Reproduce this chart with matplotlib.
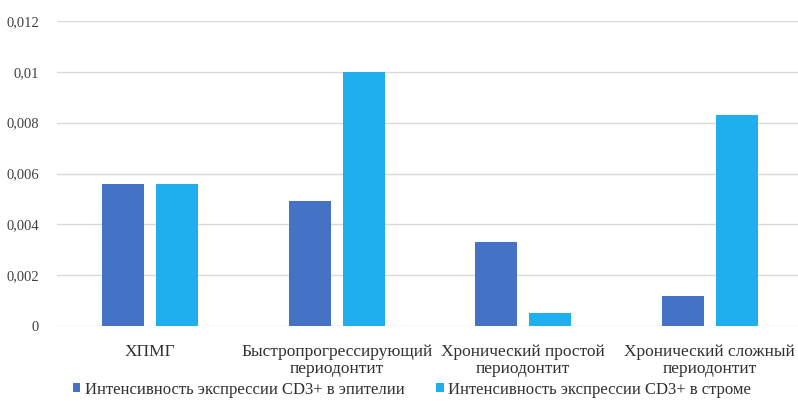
import matplotlib
matplotlib.use("Agg")
import matplotlib.pyplot as plt
import numpy as np

plt.rcParams["font.family"] = ["Liberation Serif", "DejaVu Serif"]

categories = ["ХПМГ", "Быстропрогрессирующий\nпериодонтит",
              "Хронический простой\nпериодонтит", "Хронический сложный\nпериодонтит"]
epithelium = [0.0056, 0.0049, 0.0033, 0.0012]
stroma = [0.0056, 0.0100, 0.0005, 0.0083]
series_names = ["Интенсивность экспрессии CD3+ в эпителии",
                "Интенсивность экспрессии CD3+ в строме"]
y_ticks = [0, 0.002, 0.004, 0.006, 0.008, 0.01, 0.012]
y_labels = ["0", "0,002", "0,004", "0,006", "0,008", "0,01", "0,012"]

fig = plt.figure(figsize=(7.98, 4.01), dpi=100)
ax = fig.add_axes([57 / 798, 75 / 401, 741 / 798, 305 / 401])

x = np.arange(len(categories))
w = 0.225
ax.bar(x - 0.145, epithelium, w, color="#4472C4", label=series_names[0], zorder=3)
ax.bar(x + 0.145, stroma, w, color="#1FAEEE", label=series_names[1], zorder=3)

ax.set_xlim(-0.5, 3.474)
ax.set_ylim(0, 0.012)
ax.set_yticks(y_ticks)
ax.set_yticklabels(y_labels, fontsize=10.5, color="#404040")
ax.set_xticks(x)
ax.set_xticklabels(categories, fontsize=12.5, color="#303030", linespacing=1.1)
ax.yaxis.grid(True, color="#D9D9D9", linewidth=1, zorder=0)
ax.tick_params(axis="both", length=0)
ax.tick_params(axis="y", pad=13)
ax.tick_params(axis="x", pad=13)
for s in ax.spines.values():
    s.set_visible(False)

fig.legend(loc="center", bbox_to_anchor=(0.516, 0.028), ncol=2, frameon=False,
           fontsize=12, handlelength=0.45, handleheight=0.45, handletextpad=0.25,
           columnspacing=1.9, labelcolor="#303030")

fig.savefig("out.png", dpi=100, facecolor="white")
